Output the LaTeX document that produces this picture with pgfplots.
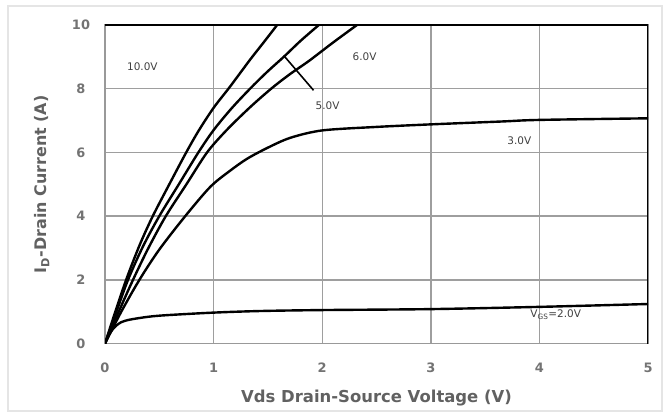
\documentclass[border=0pt]{standalone}
\usepackage{pgfplots}
\pgfplotsset{compat=1.18}
\usepackage{fontspec}
\setmainfont{DejaVu Sans}
\tikzset{mycurve/.style={black, line width=2.4bp, smooth, mark=none}}
\begin{document}
\begin{tikzpicture}[x=1bp,y=1bp]
\useasboundingbox (0,0) rectangle (669,417);
\draw[black!10, line width=1.5bp] (8,6) rectangle (662,411);
\begin{axis}[
  at={(105bp,73.5bp)}, anchor=south west,
  scale only axis, width=543bp, height=318.5bp,
  xmin=0, xmax=5, ymin=0, ymax=10,
  xtick={0,1,2,3,4,5}, ytick={0,2,4,6,8,10},
  grid=major,
  major grid style={black!38, line width=1.4bp},
  axis line style={black!40, line width=1.6bp},
  major tick length=0pt,
  /pgf/number format/assume math mode=true,
  tick label style={font=\bfseries\fontsize{13}{13}\selectfont, text=black!55},
  xticklabel style={anchor=center, yshift=-24bp},
  yticklabel style={anchor=center, xshift=-24bp},
  xlabel={Vds Drain-Source Voltage (V)},
  ylabel={I\textsubscript{D}-Drain Current (A)},
  xlabel style={at={(axis description cs:0.5,-0.171)}, anchor=center, font=\bfseries\fontsize{16.5}{16.5}\selectfont, text=black!62},
  ylabel style={at={(axis description cs:-0.116,0.5)}, anchor=center, font=\bfseries\fontsize{16}{16}\selectfont, text=black!62},
]
% 10.0V
\addplot[mycurve] coordinates {(0,0) (0.1,1.05) (0.2,2.05) (0.32,3.1) (0.44,4.0) (0.6,5.05) (0.748,6.0) (0.864,6.69) (1.0,7.4) (1.148,8.05) (1.338,8.92) (1.46,9.45) (1.585,10)};
% 6.0V
\addplot[mycurve] coordinates {(0,0) (0.1,0.95) (0.212,2.0) (0.35,3.05) (0.5,4.0) (0.68,5.0) (0.86,6.0) (1.0,6.7) (1.17,7.4) (1.35,8.05) (1.5,8.55) (1.646,9.0) (1.8,9.5) (1.969,10)};
% 5.0V
\addplot[mycurve] coordinates {(0,0) (0.12,0.95) (0.258,2.0) (0.4,3.0) (0.56,4.0) (0.75,5.0) (0.94,6.0) (1.12,6.7) (1.33,7.4) (1.53,8.0) (1.7,8.45) (1.877,8.87) (2.1,9.45) (2.32,10)};
% 3.0V
\addplot[mycurve] coordinates {(0,0) (0.15,1.0) (0.317,2.0) (0.5,2.95) (0.739,4.0) (0.97,4.92) (1.15,5.42) (1.308,5.8) (1.5,6.15) (1.708,6.46) (2.0,6.69) (2.5,6.8) (3.0,6.88) (3.65,6.97) (4.0,7.02) (5.0,7.07)};
% 2.0V
\addplot[mycurve] coordinates {(0,0) (0.05,0.35) (0.1,0.55) (0.15,0.67) (0.23,0.75) (0.4,0.84) (0.57,0.89) (1.0,0.97) (1.43,1.02) (2.0,1.05) (3.0,1.08) (4.0,1.15) (5.0,1.24)};
% pointer for 5.0V
\draw[black, line width=1.6bp] (axis cs:1.646,9.04) -- (axis cs:1.92,7.95);
% frame top and right
\draw[black, line width=2.6bp] (rel axis cs:0,1) -- (rel axis cs:1,1) -- (rel axis cs:1,0);
% curve labels
\begin{scope}[every node/.style={font=\fontsize{10.5}{10.5}\selectfont, text=black!75, inner sep=0pt}]
\node at (axis cs:0.344,8.68) {10.0V};
\node at (axis cs:2.39,9.02) {6.0V};
\node at (axis cs:2.05,7.46) {5.0V};
\node at (axis cs:3.815,6.36) {3.0V};
\node at (axis cs:4.15,0.9) {V\textsubscript{GS}=2.0V};
\end{scope}
\end{axis}
\end{tikzpicture}
\end{document}
